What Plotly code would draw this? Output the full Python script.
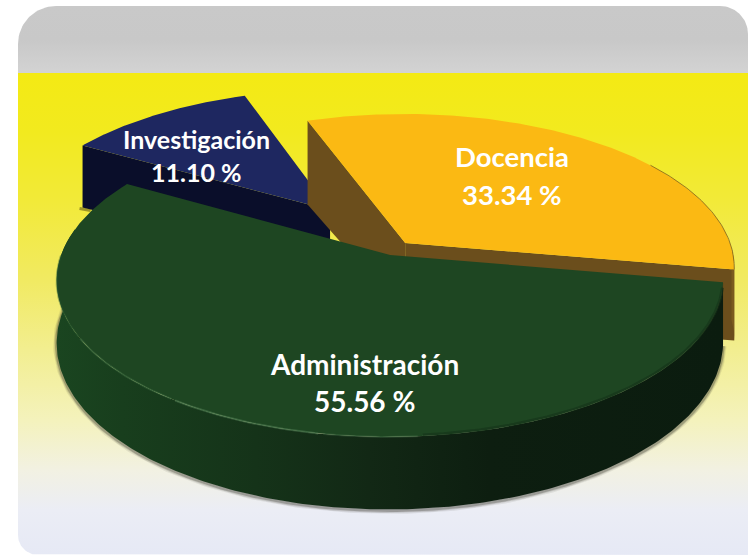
import numpy as np
import plotly.graph_objects as go

# ---- data
categories = ["Administración", "Investigación", "Docencia"]
values = [55.56, 11.10, 33.34]
value_labels = ["55.56 %", "11.10 %", "33.34 %"]

# ---- styles
TOP = {"Administración": "#1e4622", "Investigación": "#1e2760", "Docencia": "#fbb913"}
WALL = {"Administración": "#12301a", "Investigación": "#0a0e2a", "Docencia": "#6b4e1c"}
APEX = (400.0, 255.0)
A, B, K = 329.0, 153.0, 0.159
START_DEG = 10.0
# explosion in disc coordinates, and extrusion height
OFFSET = {"Administración": (-0.03, 0.0), "Investigación": (-0.223, -0.308), "Docencia": (0.016, -0.08)}
LABEL_POS = {"Administración": (364, 364, 401), "Investigación": (196, 139, 172), "Docencia": (512, 156, 194)}
LABEL_SIZE = {"Administración": 28, "Investigación": 25, "Docencia": 27.5}


def project(u, v):
    w = 1 - K * v
    return APEX[0] + A * u / w, APEX[1] + B * v / w, w


def depth(name, w):
    if name == "Administración":
        return 61.0 / w
    if name == "Investigación":
        return 55.0 * w
    return 72.0 * w


def rim(name, a0, a1, n=160):
    t = np.radians(np.linspace(a0, a1, n))
    du, dv = OFFSET[name]
    return project(np.cos(t) + du, np.sin(t) + dv)


def apex(name):
    du, dv = OFFSET[name]
    return project(np.array([du]), np.array([dv]))


def poly(fig, x, y, color=None, gradient=None):
    kw = dict(fillgradient=gradient) if gradient else dict(fillcolor=color)
    fig.add_trace(go.Scatter(x=list(x), y=list(y), mode="lines", fill="toself",
                             line=dict(width=0), hoverinfo="skip", showlegend=False, **kw))


def line(fig, x, y, color, width):
    fig.add_trace(go.Scatter(x=list(x), y=list(y), mode="lines", line=dict(color=color, width=width),
                             hoverinfo="skip", showlegend=False))


def corner(cx, cy, r, a0, a1):
    t = np.radians(np.linspace(a0, a1, 24))
    return cx + r * np.cos(t), cy + r * np.sin(t)


fig = go.Figure()

# ---- rounded panel with grey band and yellow-to-blue wash
c1 = corner(56, 44, 38, 180, 270)
c2 = corner(720, 34, 28, 270, 360)
c3 = corner(38, 535, 20, 90, 180)
px = np.concatenate([c1[0], c2[0], [748, 748], c3[0]])
py = np.concatenate([c1[1], c2[1], [555, 555], c3[1]])


def stop(y):
    # the y axis is reversed, so gradient stops run from the page bottom upward
    return 1 - (y - 6) / (555 - 6)


panel_stops = [(555, "#e6e9f5"), (510, "#ebedf5"), (470, "#f2f1e2"), (420, "#f4f2bc"), (350, "#f2ee90"),
               (280, "#f1ea62"), (200, "#f2ea38"), (130, "#f2ea1e"), (73, "#f4ea14"), (72.9, "#d3d3d3"),
               (40, "#c8c8c8"), (6, "#c9c9c9")]
poly(fig, px, py, gradient=dict(type="vertical", colorscale=[[stop(s), c] for s, c in panel_stops]))

# ---- angular extents of every slice, from the values
total = sum(values)
spans = {}
a = START_DEG
for name, val in zip(categories, values):
    spans[name] = (a, a + 360.0 * val / total)
    a += 360.0 * val / total

# ---- Investigación
name = "Investigación"
a0, a1 = spans[name]
ax, ay, aw = apex(name)
x, y, w = rim(name, a0, a1)
d0 = depth(name, w[0])
line(fig, [x[0] - 3, x[0] + 8], [y[0] + d0 + 1, y[0] + d0 + 3], "rgba(90,80,20,0.55)", 3)
poly(fig, [x[0], ax[0], ax[0], x[0]], [y[0], ay[0], ay[0] + depth(name, aw[0]), y[0] + d0], WALL[name])
poly(fig, np.r_[ax, x], np.r_[ay, y], TOP[name])

# ---- Docencia
name = "Docencia"
a0, a1 = spans[name]
ax, ay, aw = apex(name)
x, y, w = rim(name, a0, a1)
dd = depth(name, w)
ad = depth(name, aw[0])
poly(fig, [x[0], ax[0], ax[0], x[0]], [y[0], ay[0], ay[0] + ad, y[0] + dd[0]], WALL[name])
poly(fig, [x[-1], ax[0], ax[0], x[-1]], [y[-1], ay[0], ay[0] + ad, y[-1] + dd[-1]], WALL[name])
poly(fig, np.r_[x[-12:], x[-12:][::-1]], np.r_[y[-12:], (y + dd)[-12:][::-1]], "#7a5a1e")
poly(fig, np.r_[ax, x], np.r_[ay, y], TOP[name])
line(fig, x[-60:], y[-60:], "rgba(110,85,30,0.7)", 1)

# ---- Administración
name = "Administración"
a0, a1 = spans[name]
x, y, w = rim(name, a0, a1, 260)
ax, ay, aw = apex(name)
dd = depth(name, w)
deg = np.linspace(a0, a1, 260)
sel = deg < 190
# soft contact shadow
for wd, col in [(7, "rgba(70,70,60,0.10)"), (5, "rgba(60,60,50,0.16)"), (3, "rgba(50,50,40,0.28)")]:
    line(fig, x[sel], (y + dd + 1)[sel], col, wd)
poly(fig, np.r_[x[sel], x[sel][::-1]], np.r_[y[sel], (y + dd)[sel][::-1]],
     gradient=dict(type="horizontal", colorscale=[
         [0, "#1a4520"], [0.1, "#183e1d"], [0.3, "#153319"], [0.47, "#122815"],
         [0.65, "#0d1e10"], [1, "#0b1c0f"]]))
poly(fig, np.r_[ax, x], np.r_[ay, y], TOP[name])
# highlight along the front-left lip, fading to the right; soft dark lip to the right
for lo, hi, col in [(85, 100, "rgba(90,140,95,0.25)"), (100, 125, "rgba(90,140,95,0.45)"),
                    (125, 150, "rgba(70,120,75,0.4)"), (150, 180, "rgba(40,90,50,0.4)")]:
    m = (deg >= lo) & (deg <= hi)
    line(fig, x[m], y[m], col, 2)
m = (deg >= 12) & (deg <= 85)
line(fig, x[m], y[m] - 1, "rgba(20,50,25,0.6)", 3)

# ---- labels
annots = []
for name, lab in zip(categories, value_labels):
    cx, y1, y2 = LABEL_POS[name]
    for txt, yy in ((name, y1), (lab, y2)):
        annots.append(dict(x=cx, y=yy, text=txt, showarrow=False, xref="x", yref="y",
                           font=dict(family="Lato", size=LABEL_SIZE[name], color="#ffffff", weight="bold")))

fig.update_layout(
    width=748, height=555, margin=dict(l=0, r=0, t=0, b=0),
    paper_bgcolor="#ffffff", plot_bgcolor="#ffffff", showlegend=False,
    xaxis=dict(range=[0, 748], visible=False, fixedrange=True),
    yaxis=dict(range=[555, 0], visible=False, fixedrange=True),
    annotations=annots,
)
fig.write_html("out.html",
               post_script="document.body.style.margin='0';document.body.style.overflow='hidden';"
                           "document.head.insertAdjacentHTML('beforeend','<style>text{font-variant-ligatures:none}</style>');",
               config=dict(displayModeBar=False))
